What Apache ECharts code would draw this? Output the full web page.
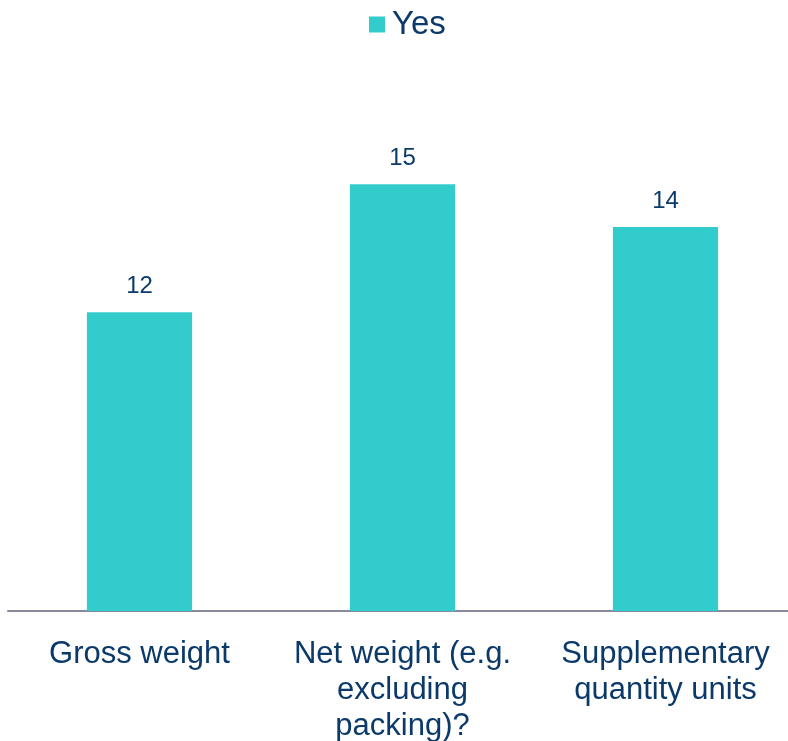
<!DOCTYPE html>
<html>
<head>
<meta charset="utf-8">
<script src="https://cdn.jsdelivr.net/npm/echarts@6/dist/echarts.min.js"></script>
<style>
  html, body { margin: 0; padding: 0; background: #fff; }
  #chart { width: 788px; height: 741px; }
</style>
</head>
<body>
<div id="chart"></div>
<script>
const categories = ['Gross weight', 'Net weight (e.g.\nexcluding\npacking)?', 'Supplementary\nquantity units']
const yesValues = [12, 15, 14]
const seriesName = 'Yes'

const textColor = '#0b3a6a'
const fontFamily = 'Liberation Sans, Arial'
const chart = echarts.init(document.getElementById('chart'), null, { renderer: 'canvas' })

const option = {
  animation: false,
  legend: {
    top: 3,
    left: 364,
    itemWidth: 16,
    itemHeight: 16,
    icon: 'rect',
    textStyle: { color: textColor, fontSize: 33, fontFamily, padding: [0, 0, 0, 2] },
    data: [seriesName]
  },
  grid: {
    left: 8,
    width: 789,
    top: 99,
    bottom: 130,
    outerBoundsMode: 'none'
  },
  xAxis: {
    type: 'category',
    data: categories,
    axisTick: { show: false },
    axisLine: { lineStyle: { color: '#898a9c', width: 2 } },
    axisLabel: {
      color: textColor,
      fontSize: 31,
      lineHeight: 36,
      margin: 25,
      interval: 0,
      fontFamily
    }
  },
  yAxis: {
    type: 'value',
    min: 5,
    max: 17,
    show: false,
    splitLine: { show: false }
  },
  series: [
    {
      name: seriesName,
      type: 'bar',
      data: yesValues,
      barWidth: '40%',
      itemStyle: { color: '#33cccc' },
      label: {
        show: true,
        position: 'top',
        distance: 14,
        color: textColor,
        fontSize: 24,
        fontFamily
      }
    }
  ]
}

chart.setOption(option)
</script>
</body>
</html>
